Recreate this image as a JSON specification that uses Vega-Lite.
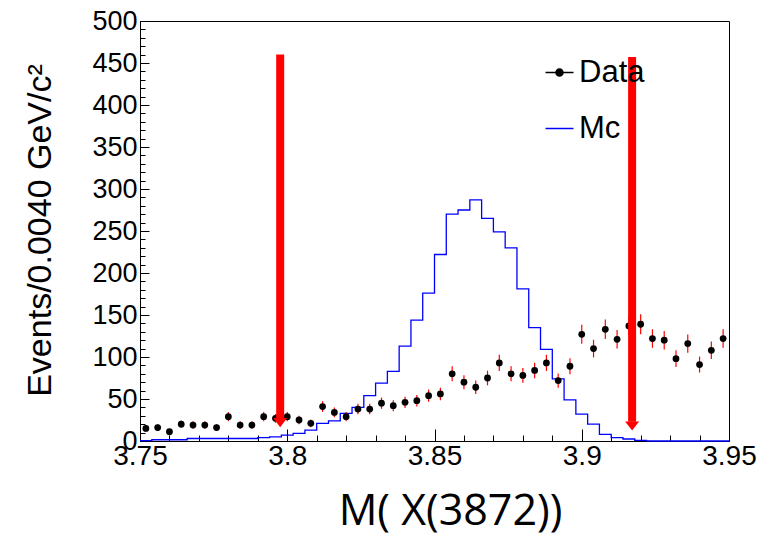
{
  "$schema": "https://vega.github.io/schema/vega-lite/v6.json",
  "width": 589,
  "height": 420,
  "autosize": {"type": "none"},
  "padding": {"left": 140, "top": 21, "right": 35, "bottom": 93},
  "background": "white",
  "config": {"view": {"stroke": "black", "strokeWidth": 1}, "font": "Liberation Sans"},
  "datasets": {
    "mc": [
      {"x": 3.750, "mc": 0.5}, {"x": 3.754, "mc": 1.5}, {"x": 3.758, "mc": 1.5}, {"x": 3.762, "mc": 1.5},
      {"x": 3.766, "mc": 3}, {"x": 3.770, "mc": 3}, {"x": 3.774, "mc": 3}, {"x": 3.778, "mc": 3},
      {"x": 3.782, "mc": 3}, {"x": 3.786, "mc": 3}, {"x": 3.790, "mc": 4}, {"x": 3.794, "mc": 5},
      {"x": 3.798, "mc": 7}, {"x": 3.802, "mc": 9}, {"x": 3.806, "mc": 13}, {"x": 3.810, "mc": 21},
      {"x": 3.814, "mc": 24}, {"x": 3.818, "mc": 33}, {"x": 3.822, "mc": 40}, {"x": 3.826, "mc": 54},
      {"x": 3.830, "mc": 69}, {"x": 3.834, "mc": 83}, {"x": 3.838, "mc": 113}, {"x": 3.842, "mc": 144},
      {"x": 3.846, "mc": 176}, {"x": 3.850, "mc": 222}, {"x": 3.854, "mc": 270}, {"x": 3.858, "mc": 275},
      {"x": 3.862, "mc": 287}, {"x": 3.866, "mc": 265}, {"x": 3.870, "mc": 249}, {"x": 3.874, "mc": 230},
      {"x": 3.878, "mc": 181}, {"x": 3.882, "mc": 135}, {"x": 3.886, "mc": 109}, {"x": 3.890, "mc": 74},
      {"x": 3.894, "mc": 49}, {"x": 3.898, "mc": 32}, {"x": 3.902, "mc": 20}, {"x": 3.906, "mc": 8},
      {"x": 3.910, "mc": 4}, {"x": 3.914, "mc": 2.4}, {"x": 3.918, "mc": 0.7}, {"x": 3.922, "mc": 0},
      {"x": 3.926, "mc": 0}, {"x": 3.930, "mc": 0}, {"x": 3.934, "mc": 0}, {"x": 3.938, "mc": 0},
      {"x": 3.942, "mc": 0}, {"x": 3.946, "mc": 0}, {"x": 3.950, "mc": 0}
    ],
    "pts": [
      {"x": 3.752, "n": 15, "err": 3.9}, {"x": 3.756, "n": 16, "err": 4}, {"x": 3.760, "n": 11, "err": 3.3},
      {"x": 3.764, "n": 20, "err": 4.5}, {"x": 3.768, "n": 19, "err": 4.4}, {"x": 3.772, "n": 19, "err": 4.4},
      {"x": 3.776, "n": 16, "err": 4}, {"x": 3.780, "n": 29, "err": 5.4}, {"x": 3.784, "n": 19, "err": 4.4},
      {"x": 3.788, "n": 19, "err": 4.4}, {"x": 3.792, "n": 29, "err": 5.4}, {"x": 3.796, "n": 27, "err": 5.2},
      {"x": 3.800, "n": 29, "err": 5.4}, {"x": 3.804, "n": 25, "err": 5}, {"x": 3.808, "n": 21, "err": 4.6},
      {"x": 3.812, "n": 41, "err": 6.4}, {"x": 3.816, "n": 34, "err": 5.8}, {"x": 3.820, "n": 29, "err": 5.4},
      {"x": 3.824, "n": 38, "err": 6.2}, {"x": 3.828, "n": 38, "err": 6.2}, {"x": 3.832, "n": 45, "err": 6.7},
      {"x": 3.836, "n": 42, "err": 6.5}, {"x": 3.840, "n": 46, "err": 6.8}, {"x": 3.844, "n": 48, "err": 6.9},
      {"x": 3.848, "n": 54, "err": 7.3}, {"x": 3.852, "n": 56, "err": 7.5}, {"x": 3.856, "n": 80, "err": 8.9},
      {"x": 3.860, "n": 70, "err": 8.4}, {"x": 3.864, "n": 64, "err": 8}, {"x": 3.868, "n": 75, "err": 8.7},
      {"x": 3.872, "n": 93, "err": 9.6}, {"x": 3.876, "n": 80, "err": 8.9}, {"x": 3.880, "n": 78, "err": 8.8},
      {"x": 3.884, "n": 84, "err": 9.2}, {"x": 3.888, "n": 93, "err": 9.6}, {"x": 3.892, "n": 72, "err": 8.5},
      {"x": 3.896, "n": 89, "err": 9.4}, {"x": 3.900, "n": 127, "err": 11.3}, {"x": 3.904, "n": 110, "err": 10.5},
      {"x": 3.908, "n": 133, "err": 11.5}, {"x": 3.912, "n": 121, "err": 11}, {"x": 3.916, "n": 137, "err": 11.7},
      {"x": 3.920, "n": 139, "err": 11.8}, {"x": 3.924, "n": 122, "err": 11}, {"x": 3.928, "n": 120, "err": 11},
      {"x": 3.932, "n": 98, "err": 9.9}, {"x": 3.936, "n": 116, "err": 10.8}, {"x": 3.940, "n": 91, "err": 9.5},
      {"x": 3.944, "n": 108, "err": 10.4}, {"x": 3.948, "n": 122, "err": 11}
    ],
    "arrows": [
      {"x": 3.7976, "top": 460, "base": 27, "tip": 16.5},
      {"x": 3.9171, "top": 457, "base": 23, "tip": 12.5}
    ]
  },
  "layer": [
    {
      "data": {"name": "mc"},
      "mark": {"type": "line", "interpolate": "step-after", "strokeWidth": 1.3},
      "encoding": {
        "x": {
          "field": "x", "type": "quantitative",
          "scale": {"domain": [3.75, 3.95], "nice": false, "zero": false},
          "title": "M( X(3872))",
          "axis": {
            "values": [3.75, 3.76, 3.77, 3.78, 3.79, 3.8, 3.81, 3.82, 3.83, 3.84, 3.85, 3.86, 3.87, 3.88, 3.89, 3.9, 3.91, 3.92, 3.93, 3.94, 3.95],
            "tickCount": 100,
            "format": ".2~f",
            "labelExpr": "abs(datum.value*20 - round(datum.value*20)) < 0.001 ? datum.label : ''",
            "tickSize": {"condition": {"test": "abs(datum.value*20 - round(datum.value*20)) < 0.001", "value": -12}, "value": -6},
            "tickColor": "black",
            "domainColor": "black",
            "grid": false,
            "labelFont": "Liberation Sans",
            "labelFontSize": 28,
            "labelColor": "black",
            "labelPadding": 13,
            "labelFlush": false,
            "labelOverlap": false,
            "titleFont": "Open Sans",
            "titleFontSize": 43,
            "titleFontWeight": "normal",
            "titleColor": "black",
            "titleX": 310,
            "titleY": 83,
            "titleAlign": "center",
            "titleBaseline": "alphabetic"
          }
        },
        "y": {
          "field": "mc", "type": "quantitative",
          "scale": {"domain": [0, 500], "nice": false},
          "title": "Events/0.0040 GeV/c²",
          "axis": {
            "values": [0, 10, 20, 30, 40, 50, 60, 70, 80, 90, 100, 110, 120, 130, 140, 150, 160, 170, 180, 190, 200, 210, 220, 230, 240, 250, 260, 270, 280, 290, 300, 310, 320, 330, 340, 350, 360, 370, 380, 390, 400, 410, 420, 430, 440, 450, 460, 470, 480, 490, 500],
            "tickCount": 100,
            "labelExpr": "datum.value % 50 === 0 ? datum.label : ''",
            "tickSize": {"condition": {"test": "datum.value % 50 === 0", "value": -9}, "value": -5},
            "tickColor": "black",
            "domainColor": "black",
            "grid": false,
            "labelFont": "Liberation Sans",
            "labelFontSize": 27,
            "labelColor": "black",
            "labelPadding": 12,
            "labelFlush": false,
            "labelOverlap": false,
            "titleFont": "Liberation Sans",
            "titleFontSize": 34,
            "titleFontWeight": "normal",
            "titleColor": "black",
            "titleX": -90,
            "titleY": 209,
            "titleAngle": -90,
            "titleAlign": "center",
            "titleBaseline": "alphabetic"
          }
        },
        "color": {
          "datum": "Mc",
          "scale": {"domain": ["Data", "Mc"], "range": ["black", "blue"]},
          "legend": {
            "orient": "none",
            "legendX": 404,
            "legendY": 36,
            "title": null,
            "padding": 0,
            "labelFont": "Liberation Sans",
            "labelFontSize": 31,
            "labelColor": "black",
            "labelLimit": 0,
            "labelOffset": 4,
            "symbolSize": 784,
            "rowPadding": 24,
            "symbolStrokeWidth": 1.5,
            "encode": {
              "symbols": {
                "update": {
                  "shape": {"signal": "datum.value === 'Data' ? 'M-1,0H1M-0.25,0A0.25,0.25,0,1,0,0.25,0A0.25,0.25,0,1,0,-0.25,0Z' : 'M-1,0H1'"},
                  "fill": {"signal": "datum.value === 'Data' ? 'black' : 'transparent'"},
                  "stroke": {"signal": "datum.value === 'Data' ? 'red' : 'blue'"},
                  "strokeWidth": {"value": 1.5},
                  "opacity": {"value": 1}
                }
              }
            }
          }
        }
      }
    },
    {
      "data": {"name": "pts"},
      "mark": {"type": "errorbar", "color": "red", "thickness": 1.2},
      "encoding": {
        "x": {"field": "x", "type": "quantitative", "title": "M( X(3872))"},
        "y": {"field": "n", "type": "quantitative", "title": "Events/0.0040 GeV/c²"},
        "yError": {"field": "err"}
      }
    },
    {
      "data": {"name": "pts"},
      "mark": {"type": "point", "filled": true, "size": 46, "opacity": 1},
      "encoding": {
        "x": {"field": "x", "type": "quantitative", "title": "M( X(3872))"},
        "y": {"field": "n", "type": "quantitative", "title": "Events/0.0040 GeV/c²"},
        "color": {"datum": "Data"}
      }
    },
    {
      "data": {"name": "arrows"},
      "mark": {"type": "rule", "color": "red", "strokeWidth": 8},
      "encoding": {
        "x": {"field": "x", "type": "quantitative", "title": "M( X(3872))"},
        "y": {"field": "top", "type": "quantitative", "title": "Events/0.0040 GeV/c²"},
        "y2": {"field": "base"}
      }
    },
    {
      "data": {"name": "arrows"},
      "mark": {"type": "point", "filled": true, "color": "red", "opacity": 1, "shape": "M-1,-1.3L1,-1.3L0,0Z", "size": 196, "strokeWidth": 0},
      "encoding": {
        "x": {"field": "x", "type": "quantitative", "title": "M( X(3872))"},
        "y": {"field": "tip", "type": "quantitative", "title": "Events/0.0040 GeV/c²"}
      }
    }
  ]
}
